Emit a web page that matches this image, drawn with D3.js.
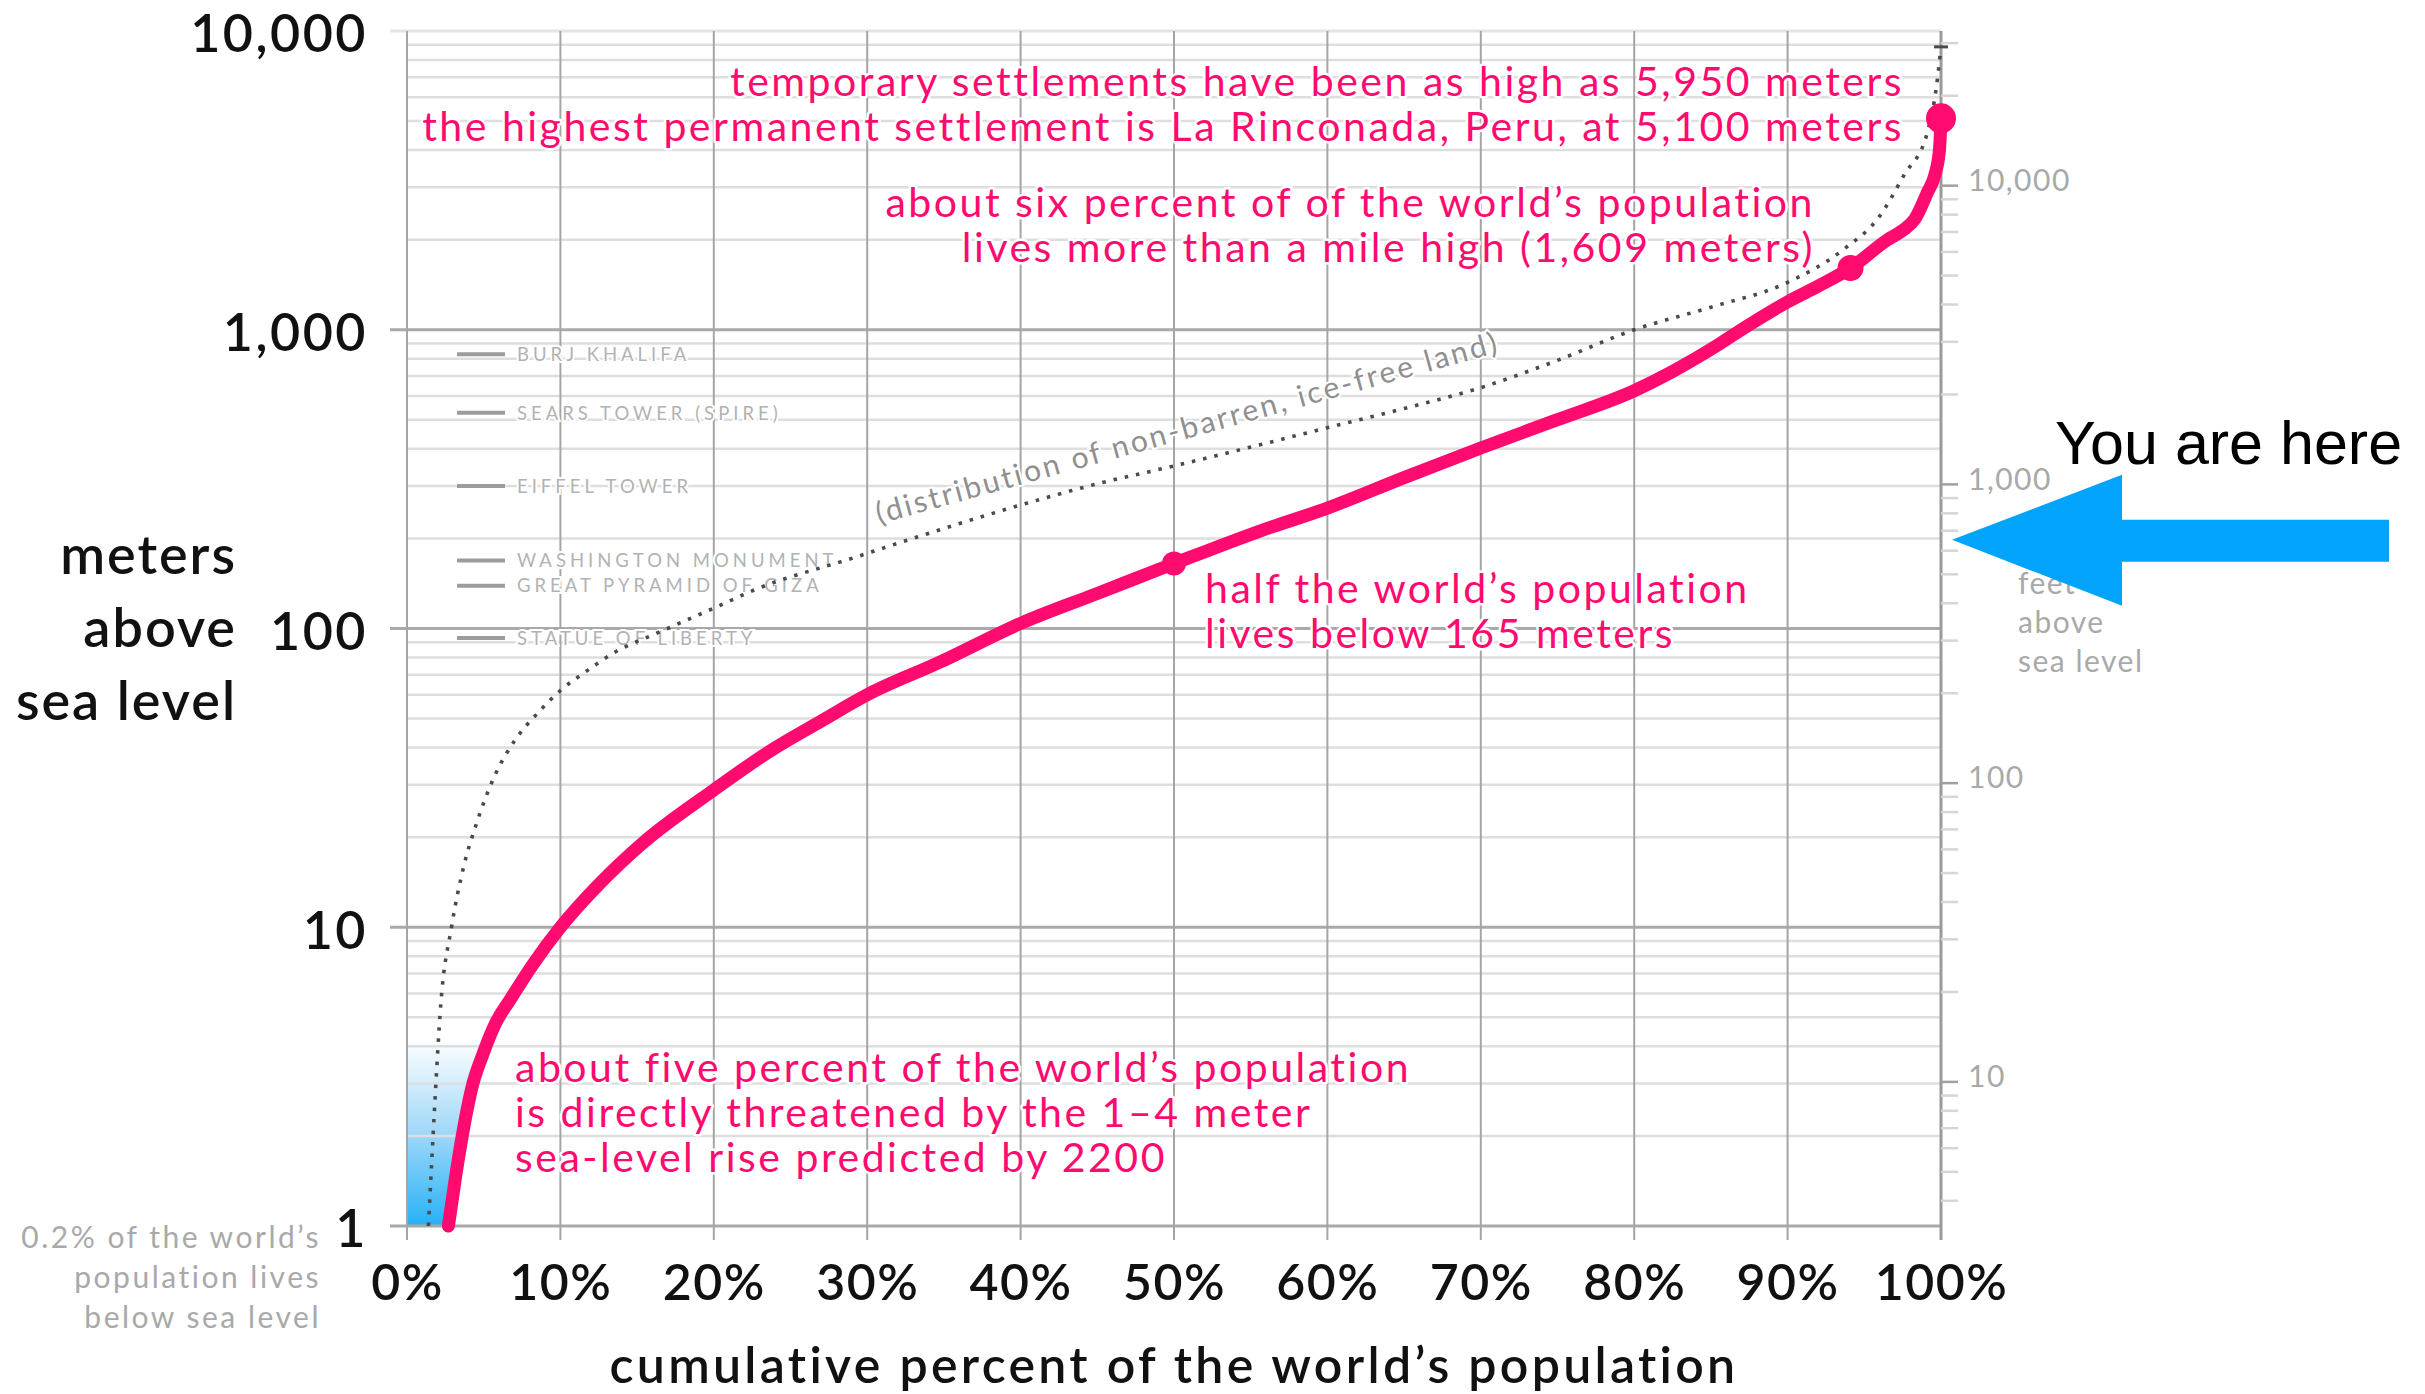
<!DOCTYPE html>
<html>
<head>
<meta charset="utf-8">
<script src="https://cdn.jsdelivr.net/npm/d3@7"></script>
<style>
  body { margin: 0; background: #fff; }
  svg { display: block; font-family: Lato, "Open Sans", sans-serif; }
</style>
</head>
<body>
<div id="chart"></div>
<script>
// data
// cumulative percent of world population living below a given elevation (meters)
const popPct  = [2.7, 3.2, 3.6, 4.3, 4.9, 5.8, 6.7, 8.2, 10, 12.5, 15.4, 20, 23.7, 27, 30, 34.7, 40, 45, 50, 55.6, 60, 65, 70, 75, 80, 82.5, 85, 87.5, 90, 92, 94.1, 96.5, 97.5, 98.3, 99.1, 99.6, 99.9, 100];
const popElev = [1, 1.5, 2, 3, 3.7, 4.8, 5.7, 7.5, 10, 13.9, 19.2, 28.8, 39, 49, 60, 77, 104, 131, 165, 212, 253, 320, 402, 500, 625, 725, 860, 1040, 1240, 1400, 1609, 2000, 2150, 2350, 2870, 3300, 4000, 5100];

// distribution of non-barren, ice-free land
const landPct  = [1.4, 1.8, 2.2, 2.9, 3.7, 4.5, 5.7, 7, 8.5, 10, 11.7, 13.5, 16.4, 20, 22.7, 29.2, 33.2, 40, 45, 50, 55.6, 60, 65, 70, 75, 80, 85, 90, 93.6, 96, 97.6, 99.1, 99.7, 100];
const landElev = [1, 2.5, 5.5, 10, 16, 22, 32, 42, 52, 62, 72, 83, 97, 117, 135, 173, 202, 259, 305, 350, 412, 470, 545, 640, 790, 1000, 1190, 1440, 1850, 2400, 3300, 4550, 6500, 8848];

// highlighted points
const markerPct  = [50, 94.1, 100];
const markerElev = [165, 1609, 5100];
const markerR    = [12, 13, 15];

// ticks
const xTicks = [0, 10, 20, 30, 40, 50, 60, 70, 80, 90, 100];
const yTicks = [1, 10, 100, 1000, 10000];
const yTickLabels = ["1", "10", "100", "1,000", "10,000"];
const feetMajor = [10, 100, 1000, 10000];

// reference buildings (meters)
const buildingNames   = ["BURJ KHALIFA", "SEARS TOWER (SPIRE)", "EIFFEL TOWER", "WASHINGTON MONUMENT", "GREAT PYRAMID OF GIZA", "STATUE OF LIBERTY"];
const buildingHeights = [828, 527, 300, 169, 139, 93];

const seaRiseTop = 4.2;

// text
const noteSettle = ["temporary settlements have been as high as 5,950 meters",
                    "the highest permanent settlement is La Rinconada, Peru, at 5,100 meters"];
const noteMile   = ["about six percent of of the world\u2019s population",
                    "lives more than a mile high (1,609 meters)"];
const noteHalf   = ["half the world\u2019s population", "lives below 165 meters"];
const noteFive   = ["about five percent of the world\u2019s population",
                    "is directly threatened by the 1\u20134 meter",
                    "sea-level rise predicted by 2200"];
const noteBelow  = ["0.2% of the world\u2019s", "population lives", "below sea level"];
const yTitle     = ["meters", "above", "sea level"];
const feetTitle  = ["feet", "above", "sea level"];

// constants
const W = 2425, H = 1394;
const pink = "#ff0a6e";

const x = d3.scaleLinear().domain([0, 100]).range([407, 1941]);
const y = d3.scaleLog().domain([1, 10000]).range([1226, 31]);
const yFeet = d3.scaleLog().domain([1 / 0.3048, 10000 / 0.3048]).range([1226, 31]);

const svg = d3.select("#chart")
    .append("svg")
    .attr("width", W)
    .attr("height", H);

svg.append("rect").attr("width", W).attr("height", H).attr("fill", "#fff");

// blue gradient for the sea-level rise zone
const defs = svg.append("defs");
const grad = defs.append("linearGradient")
    .attr("id", "seaGrad")
    .attr("gradientUnits", "userSpaceOnUse")
    .attr("x1", 0).attr("x2", 0)
    .attr("y1", y(1)).attr("y2", y(seaRiseTop));
grad.append("stop").attr("offset", 0).attr("stop-color", "#26b1f6");
grad.append("stop").attr("offset", 0.5).attr("stop-color", "#9fd8f9");
grad.append("stop").attr("offset", 1).attr("stop-color", "#ffffff");

const pop = popPct.map((p, i) => ({p: p, e: popElev[i]}));
const land = landPct.map((p, i) => ({p: p, e: landElev[i]}));

const seaArea = d3.area()
    .curve(d3.curveMonotoneY)
    .y(d => y(d.e))
    .x0(x(0))
    .x1(d => x(d.p));

svg.append("path")
    .datum(pop.filter(d => d.e <= 4.8))
    .attr("d", seaArea)
    .attr("fill", "url(#seaGrad)");

// grid
const minor = [];
[1, 10, 100, 1000].forEach(d => { for (let k = 2; k <= 9; k++) minor.push(d * k); });

const grid = svg.append("g");
grid.selectAll(".minor")
    .data(minor)
    .enter().append("line")
    .attr("x1", x(0)).attr("x2", x(100))
    .attr("y1", d => y(d)).attr("y2", d => y(d))
    .attr("stroke", "#dedede")
    .attr("stroke-width", 2.5);

grid.selectAll(".major")
    .data(yTicks)
    .enter().append("line")
    .attr("x1", x(0) - 17).attr("x2", x(100))
    .attr("y1", d => y(d)).attr("y2", d => y(d))
    .attr("stroke", d => d === 10000 ? "#e4e4e4" : "#a9a9a9")
    .attr("stroke-width", 3);

grid.selectAll(".vert")
    .data(xTicks)
    .enter().append("line")
    .attr("x1", d => x(d)).attr("x2", d => x(d))
    .attr("y1", y(10000)).attr("y2", y(1) + 14)
    .attr("stroke", d => d === 100 ? "#9a9a9a" : "#a5a5a5")
    .attr("stroke-width", d => d === 100 ? 3 : 2);

// left axis labels
const yAxis = svg.append("g")
    .attr("transform", `translate(${x(0)},0)`)
    .call(d3.axisLeft(y).tickValues(yTicks).tickFormat((d, i) => yTickLabels[i]).tickSize(0).tickPadding(39));
yAxis.select(".domain").remove();
yAxis.selectAll("text")
    .attr("font-family", "Lato, sans-serif")
    .attr("font-size", 52)
    .attr("font-weight", 600)
    .attr("letter-spacing", 2.5)
    .attr("dy", "0.4em")
    .attr("fill", "#111");

// bottom axis labels
const xAxis = svg.append("g")
    .attr("transform", `translate(0,${y(1)})`)
    .call(d3.axisBottom(x).tickValues(xTicks).tickFormat(d => d + "%").tickSize(0).tickPadding(38));
xAxis.select(".domain").remove();
xAxis.selectAll("text")
    .attr("font-family", "Lato, sans-serif")
    .attr("font-size", 50)
    .attr("font-weight", 600)
    .attr("letter-spacing", 1.5)
    .attr("fill", "#111");

// right axis in feet
const feetTicks = [];
[1, 10, 100, 1000, 10000].forEach(d => {
    for (let k = 1; k <= 9; k++) {
        const v = d * k;
        if (v >= 4 && v <= 30000) feetTicks.push(v);
    }
});
const fAxis = svg.append("g")
    .attr("transform", `translate(${x(100)},0)`)
    .call(d3.axisRight(yFeet).tickValues(feetTicks)
        .tickFormat(d => feetMajor.includes(d) ? d3.format(",")(d) : "")
        .tickSize(17).tickPadding(10));
fAxis.select(".domain").remove();
fAxis.selectAll("line")
    .attr("stroke", d => feetMajor.includes(d) ? "#a0a0a0" : "#d6d6d6")
    .attr("stroke-width", 2.5);
fAxis.selectAll("text")
    .attr("font-family", "Lato, sans-serif")
    .attr("font-size", 30)
    .attr("letter-spacing", 1.5)
    .attr("dy", "0.17em")
    .attr("fill", "#a9a9a9");

// buildings
const bld = svg.append("g");
bld.selectAll("line")
    .data(buildingHeights)
    .enter().append("line")
    .attr("x1", 457).attr("x2", 505)
    .attr("y1", d => y(d)).attr("y2", d => y(d))
    .attr("stroke", "#9c9c9c")
    .attr("stroke-width", 4);
bld.selectAll("text")
    .data(buildingHeights)
    .enter().append("text")
    .attr("x", 517)
    .attr("y", d => y(d))
    .attr("dy", "0.36em")
    .attr("font-size", 18.5)
    .attr("letter-spacing", 4)
    .attr("fill", "#b2b2b2")
    .attr("stroke", "#fff")
    .attr("stroke-width", 4)
    .attr("paint-order", "stroke")
    .text((d, i) => buildingNames[i]);

// land distribution line
const line = d3.line()
    .curve(d3.curveMonotoneX)
    .x(d => x(d.p))
    .y(d => y(d.e));

svg.append("path")
    .datum(land)
    .attr("d", line)
    .attr("fill", "none")
    .attr("stroke", "#4a4a4a")
    .attr("stroke-width", 3.6)
    .attr("stroke-dasharray", "3.5 8");

svg.append("line")
    .attr("x1", x(100) - 7).attr("x2", x(100) + 7)
    .attr("y1", y(8848)).attr("y2", y(8848))
    .attr("stroke", "#4a4a4a")
    .attr("stroke-width", 3);

svg.append("text")
    .attr("transform", `translate(879,524) rotate(-15.5)`)
    .attr("font-size", 30)
    .attr("letter-spacing", 2.6)
    .attr("fill", "#8f8f8f")
    .attr("stroke", "#fff")
    .attr("stroke-width", 4)
    .attr("paint-order", "stroke")
    .text("(distribution of non-barren, ice-free land)");

// population line
svg.append("path")
    .datum(pop)
    .attr("d", line)
    .attr("fill", "none")
    .attr("stroke", pink)
    .attr("stroke-width", 13)
    .attr("stroke-linecap", "round")
    .attr("stroke-linejoin", "round");

svg.selectAll(".marker")
    .data(markerPct)
    .enter().append("circle")
    .attr("cx", d => x(d))
    .attr("cy", (d, i) => y(markerElev[i]))
    .attr("r", (d, i) => markerR[i])
    .attr("fill", pink);

// pink notes
function note(lines, xPos, y0, anchor) {
    svg.append("g").selectAll("text")
        .data(lines)
        .enter().append("text")
        .attr("x", xPos)
        .attr("y", (d, i) => y0 + i * 45)
        .attr("text-anchor", anchor)
        .attr("font-size", 41)
        .attr("letter-spacing", 2.5)
        .attr("fill", pink)
        .attr("stroke", "#fff")
        .attr("stroke-width", 5)
        .attr("stroke-linejoin", "round")
        .attr("paint-order", "stroke")
        .text(d => d);
}
note(noteSettle, 1904, 96, "end");
note(noteMile, 1815, 217, "end");
note(noteHalf, 1205, 603, "start");
note(noteFive, 515, 1082, "start");

// gray side texts
svg.append("g").selectAll("text")
    .data(noteBelow)
    .enter().append("text")
    .attr("x", 321)
    .attr("y", (d, i) => 1248 + i * 40)
    .attr("text-anchor", "end")
    .attr("font-size", 30)
    .attr("letter-spacing", 2.5)
    .attr("fill", "#a9a9a9")
    .text(d => d);

svg.append("g").selectAll("text")
    .data(feetTitle)
    .enter().append("text")
    .attr("x", 2018)
    .attr("y", (d, i) => 594 + i * 39)
    .attr("font-size", 30)
    .attr("letter-spacing", 1.5)
    .attr("fill", "#a9a9a9")
    .text(d => d);

// axis titles
svg.append("g").selectAll("text")
    .data(yTitle)
    .enter().append("text")
    .attr("x", 237)
    .attr("y", (d, i) => 574 + i * 73)
    .attr("text-anchor", "end")
    .attr("font-size", 54)
    .attr("font-weight", 600)
    .attr("letter-spacing", 2)
    .attr("fill", "#111")
    .text(d => d);

svg.append("text")
    .attr("x", x(50))
    .attr("y", 1383)
    .attr("text-anchor", "middle")
    .attr("font-size", 50)
    .attr("font-weight", 600)
    .attr("letter-spacing", 3.3)
    .attr("fill", "#111")
    .text("cumulative percent of the world\u2019s population");

// "you are here" overlay
const tipX = x(100) + 11, tipY = yFeet(650);
svg.append("path")
    .attr("d", `M${tipX},${tipY} L${tipX + 170},${tipY - 65} L${tipX + 170},${tipY - 20}
        L${tipX + 437},${tipY - 20} L${tipX + 437},${tipY + 22} L${tipX + 170},${tipY + 22}
        L${tipX + 170},${tipY + 66} Z`)
    .attr("fill", "#02a3fb");

svg.append("text")
    .attr("x", tipX + 103)
    .attr("y", tipY - 76)
    .attr("font-family", "'Liberation Sans', Arial, sans-serif")
    .attr("font-size", 61)
    .attr("fill", "#000")
    .text("You are here");
</script>
</body>
</html>
